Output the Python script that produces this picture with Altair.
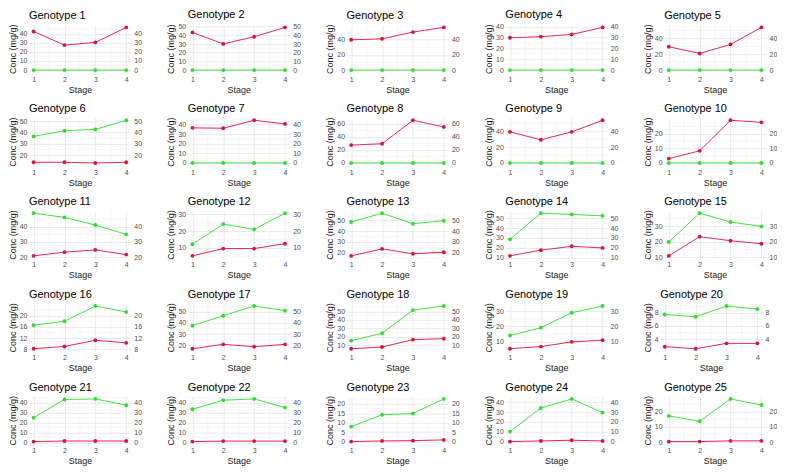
import altair as alt
import pandas as pd

STAGES = [1, 2, 3, 4]

RED = [
    [42.5, 27.5, 30.5, 47.0],   # 1
    [43.4, 30.2, 38.4, 49.2],   # 2
    [39.6, 40.9, 49.7, 55.8],   # 3
    [30.0, 31.0, 33.1, 39.6],   # 4
    [29.5, 21.0, 32.4, 53.9],   # 5
    [13.6, 13.6, 13.0, 13.6],   # 6
    [36.6, 36.2, 44.5, 40.7],   # 7
    [27.5, 29.5, 65.6, 55.4],   # 8
    [39.2, 29.2, 39.2, 53.8],   # 9
    [3.0, 8.3, 29.2, 27.8],     # 10
    [20.9, 23.3, 24.8, 21.7],   # 11
    [5.3, 9.6, 9.6, 12.5],      # 12
    [16.9, 23.4, 18.8, 20.3],   # 13
    [11.7, 17.5, 21.5, 19.8],   # 14
    [10.9, 23.2, 20.6, 18.7],   # 15
    [8.2, 9.0, 11.2, 10.3],     # 16
    [17.0, 20.9, 18.8, 20.9],   # 17
    [5.6, 7.6, 16.4, 17.6],     # 18
    [5.3, 6.7, 9.8, 10.9],      # 19
    [2.9, 2.6, 3.4, 3.4],       # 20
    [0.7, 1.3, 1.3, 1.3],       # 21
    [0.7, 1.2, 1.2, 1.2],       # 22
    [0.0, 0.35, 0.5, 0.9],      # 23
    [0.0, 0.7, 1.4, 0.7],       # 24
    [0.4, 0.4, 0.9, 0.9],       # 25
]

GREEN = [
    [0.0, 0.0, 0.0, 0.0],       # 1
    [0.0, 0.0, 0.0, 0.0],       # 2
    [0.0, 0.0, 0.0, 0.0],       # 3
    [0.0, 0.0, 0.0, 0.0],       # 4
    [0.0, 0.0, 0.0, 0.0],       # 5
    [36.6, 41.6, 42.8, 50.9],   # 6
    [0.0, 0.0, 0.0, 0.0],       # 7
    [0.0, 0.0, 0.0, 0.0],       # 8
    [0.0, 0.0, 0.0, 0.0],       # 9
    [0.0, 0.0, 0.0, 0.0],       # 10
    [48.9, 46.1, 41.1, 35.0],   # 11
    [12.2, 24.1, 21.0, 30.6],   # 12
    [48.5, 56.8, 46.9, 49.7],   # 13
    [28.6, 55.4, 54.1, 52.7],   # 14
    [19.8, 38.3, 32.6, 29.8],   # 15
    [16.55, 18.0, 23.4, 21.3],  # 16
    [37.5, 46.4, 55.0, 50.9],   # 17
    [15.2, 24.0, 51.6, 56.4],   # 18
    [14.0, 19.1, 28.9, 33.3],   # 19
    [7.7, 7.35, 8.95, 8.5],     # 20
    [24.8, 43.0, 43.6, 37.3],   # 21
    [33.2, 42.3, 43.6, 34.9],   # 22
    [7.9, 14.2, 14.9, 22.6],    # 23
    [10.2, 34.2, 43.4, 29.5],   # 24
    [17.2, 13.7, 28.3, 24.3],   # 25
]

TICKS = [
    [0, 10, 20, 30, 40],
    [0, 10, 20, 30, 40, 50],
    [0, 20, 40],
    [0, 10, 20, 30, 40],
    [0, 20, 40],
    [10, 20, 30, 40, 50],
    [0, 10, 20, 30, 40],
    [0, 20, 40, 60],
    [0, 20, 40],
    [0, 10, 20],
    [20, 30, 40],
    [10, 20, 30],
    [20, 30, 40, 50],
    [10, 20, 30, 40, 50],
    [10, 20, 30],
    [8, 12, 16, 20],
    [20, 30, 40, 50],
    [10, 20, 30, 40, 50],
    [10, 20, 30],
    [4, 6, 8],
    [0, 10, 20, 30, 40],
    [0, 10, 20, 30, 40],
    [0, 5, 10, 15, 20],
    [0, 10, 20, 30, 40],
    [0, 10, 20],
]

SERIES = ["green", "red"]
SERIES_COLORS = ["#2ee02e", "#dc143c"]
X_MINOR = [1.5, 2.5, 3.5]

FONT = "Liberation Sans"
MAJOR_GRID = "#e4e4e4"
MINOR_GRID = "#f1f1f1"
LABEL_COLOR = "#4d4d4d"


def panel(i):
    rows = []
    for s, v in zip(STAGES, GREEN[i]):
        rows.append({"stage": s, "value": v, "series": "green"})
    for s, v in zip(STAGES, RED[i]):
        rows.append({"stage": s, "value": v, "series": "red"})
    df = pd.DataFrame(rows)

    allv = GREEN[i] + RED[i]
    lo, hi = min(allv), max(allv)
    pad = 0.05 * (hi - lo)
    dom = [lo - pad, hi + pad]
    ticks = TICKS[i]
    step = ticks[1] - ticks[0]
    minors = [t + step / 2 for t in [ticks[0] - step] + ticks]
    minors = [m for m in minors if dom[0] <= m <= dom[1]]

    yscale = alt.Scale(domain=dom, nice=False, zero=False)
    xscale = alt.Scale(domain=[0.85, 4.15], nice=False)

    xenc = alt.X(
        "stage:Q", scale=xscale,
        axis=alt.Axis(orient="bottom", values=STAGES, format="d", title="Stage",
                      grid=True, labelPadding=3, titlePadding=3,
                      labelColor=LABEL_COLOR),
    )

    yminor = alt.Chart(pd.DataFrame({"v": minors})).mark_rule(
        color=MINOR_GRID, strokeWidth=0.6
    ).encode(y=alt.Y("v:Q", scale=yscale, axis=None))

    xminor = alt.Chart(pd.DataFrame({"v": X_MINOR})).mark_rule(
        color=MINOR_GRID, strokeWidth=0.6
    ).encode(x=alt.X("v:Q", scale=xscale, axis=None))

    lines = alt.Chart(df).mark_line(
        strokeWidth=0.9,
        point=alt.OverlayMarkDef(filled=True, size=15, opacity=1),
    ).encode(
        x=xenc,
        y=alt.Y("value:Q", scale=yscale,
                axis=alt.Axis(orient="left", values=ticks, title="Conc (mg/g)",
                              grid=True, labelPadding=2, titlePadding=2,
                              labelColor=LABEL_COLOR)),
        color=alt.Color("series:N",
                        scale=alt.Scale(domain=SERIES, range=SERIES_COLORS),
                        legend=None),
    )

    right = alt.Chart(df).mark_point(opacity=0).encode(
        y=alt.Y("value:Q", scale=yscale,
                axis=alt.Axis(orient="right", values=ticks, title=None,
                              grid=False, labelPadding=3,
                              labelColor=LABEL_COLOR)),
    )

    return alt.layer(yminor, xminor, lines, right).resolve_scale(
        x="shared", y="shared"
    ).resolve_axis(x="independent", y="independent").properties(
        width=102, height=47,
        title=alt.TitleParams(f"Genotype {i + 1}", anchor="start", frame="group"),
    )


panels = [panel(i) for i in range(25)]
rows = [alt.hconcat(*panels[r * 5:(r + 1) * 5], spacing=25) for r in range(5)]

chart = alt.vconcat(*rows, spacing=8).properties(
    padding={"left": 0, "top": 0, "right": 0, "bottom": 0}
).configure_view(
    stroke=None
).configure_axis(
    labelFont=FONT, titleFont=FONT, labelFontSize=7, titleFontSize=9,
    labelColor=LABEL_COLOR, titleColor="#1a1a1a", titleFontWeight="normal",
    domain=False, ticks=False, gridColor=MAJOR_GRID, gridWidth=0.8,
).configure_title(
    font=FONT, fontSize=11, fontWeight="normal", color="#000000",
    anchor="start", offset=3,
)

chart.save("out.html", embed_options={"renderer": "svg", "actions": False})
